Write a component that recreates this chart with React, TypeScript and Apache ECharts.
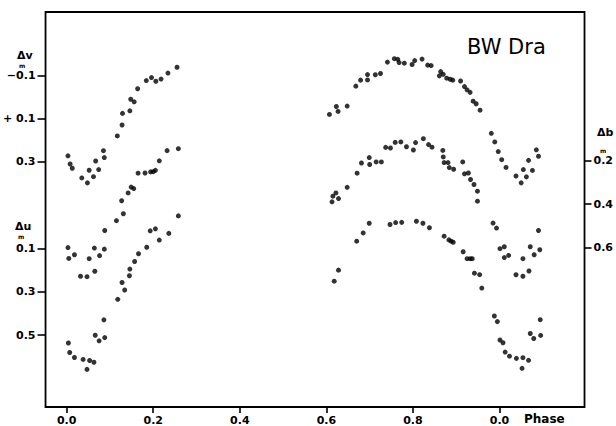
import React, { useEffect, useRef } from "react";
import * as echarts from "echarts";

// ---- tick values and labels ----
const phaseTicks = [0, 0.2, 0.4, 0.6, 0.8, 1.0];
const phaseTickLabels = ["0.0", "0.2", "0.4", "0.6", "0.8", "0.0"];
const vTicks = [-0.1, 0.1, 0.3];
const vTickLabels = ["\u22120.1", "+ 0.1", "0.3"];
const uTicks = [0.1, 0.3, 0.5];
const uTickLabels = ["0.1", "0.3", "0.5"];
const bTicks = [0.2, 0.4, 0.6];
const bTickLabels = ["0.2", "0.4", "0.6"];

// ---- Δv (top curve, left axis) ----
const vPhase = [0.003, 0.008, 0.013, 0.035, 0.048, 0.052, 0.062, 0.067, 0.074, 0.085, 0.087, 0.117, 0.128, 0.129, 0.146, 0.148, 0.156, 0.164, 0.184, 0.196, 0.206, 0.218, 0.234, 0.255,
  0.607, 0.623, 0.627, 0.648, 0.668, 0.679, 0.695, 0.695, 0.713, 0.725, 0.741, 0.757, 0.765, 0.768, 0.780, 0.798, 0.804, 0.821, 0.834, 0.842, 0.861, 0.864, 0.870, 0.878, 0.886, 0.892, 0.910, 0.919, 0.925, 0.932, 0.939, 0.946, 0.955, 0.981, 0.989, 0.997, 1.005, 1.015, 1.038, 1.050, 1.055, 1.062, 1.067, 1.076, 1.085, 1.090];
const vMag = [0.273, 0.311, 0.331, 0.376, 0.399, 0.340, 0.370, 0.297, 0.337, 0.249, 0.281, 0.180, 0.129, 0.075, 0.063, 0.009, 0.021, -0.040, -0.078, -0.092, -0.075, -0.085, -0.113, -0.140,
  0.080, 0.043, 0.066, 0.041, -0.052, -0.080, -0.106, -0.081, -0.105, -0.111, -0.164, -0.180, -0.177, -0.162, -0.159, -0.153, -0.171, -0.178, -0.150, -0.148, -0.100, -0.120, -0.107, -0.089, -0.084, -0.080, -0.076, -0.050, -0.035, -0.023, 0.018, 0.030, 0.060, 0.168, 0.208, 0.253, 0.291, 0.327, 0.367, 0.399, 0.337, 0.371, 0.294, 0.341, 0.245, 0.275];

// ---- Δb (middle curve, right axis) ----
const bPhase = [0.003, 0.005, 0.018, 0.032, 0.047, 0.052, 0.064, 0.065, 0.076, 0.087, 0.088, 0.115, 0.127, 0.131, 0.142, 0.149, 0.155, 0.165, 0.181, 0.194, 0.200, 0.205, 0.214, 0.232, 0.258,
  0.613, 0.615, 0.622, 0.628, 0.648, 0.671, 0.681, 0.699, 0.700, 0.715, 0.727, 0.737, 0.748, 0.759, 0.772, 0.785, 0.801, 0.806, 0.824, 0.836, 0.844, 0.869, 0.870, 0.872, 0.881, 0.884, 0.894, 0.915, 0.919, 0.928, 0.933, 0.941, 0.949, 0.949, 0.985, 0.993, 1.001, 1.011, 1.011, 1.021, 1.038, 1.054, 1.054, 1.068, 1.071, 1.080, 1.090, 1.093];
const bMag = [0.601, 0.651, 0.634, 0.733, 0.735, 0.652, 0.603, 0.710, 0.638, 0.608, 0.522, 0.477, 0.385, 0.445, 0.349, 0.322, 0.329, 0.258, 0.257, 0.252, 0.251, 0.245, 0.201, 0.154, 0.145,
  0.390, 0.364, 0.349, 0.375, 0.323, 0.258, 0.211, 0.186, 0.218, 0.206, 0.206, 0.139, 0.142, 0.116, 0.114, 0.136, 0.151, 0.117, 0.099, 0.126, 0.138, 0.153, 0.183, 0.209, 0.209, 0.232, 0.240, 0.206, 0.261, 0.257, 0.287, 0.310, 0.341, 0.387, 0.488, 0.511, 0.606, 0.597, 0.647, 0.637, 0.726, 0.733, 0.652, 0.709, 0.597, 0.634, 0.522, 0.611];

// ---- Δu (bottom curve, left axis) ----
const uPhase = [0.004, 0.007, 0.018, 0.038, 0.047, 0.053, 0.063, 0.066, 0.075, 0.088, 0.086, 0.118, 0.128, 0.134, 0.145, 0.146, 0.157, 0.166, 0.185, 0.193, 0.205, 0.214, 0.236, 0.258,
  0.618, 0.628, 0.670, 0.685, 0.699, 0.747, 0.760, 0.774, 0.808, 0.823, 0.838, 0.872, 0.883, 0.888, 0.893, 0.916, 0.925, 0.932, 0.937, 0.942, 0.954, 0.959, 0.988, 0.995, 1.001, 1.008, 1.013, 1.023, 1.039, 1.054, 1.067, 1.052, 1.071, 1.079, 1.094, 1.095];
const uMag = [0.536, 0.580, 0.603, 0.612, 0.658, 0.617, 0.625, 0.500, 0.526, 0.511, 0.429, 0.334, 0.256, 0.291, 0.225, 0.194, 0.159, 0.123, 0.093, 0.017, 0.008, 0.060, 0.029, -0.052,
  0.250, 0.199, 0.065, 0.027, -0.018, -0.012, -0.021, -0.022, -0.027, -0.018, 0.003, 0.042, 0.059, 0.065, 0.070, 0.114, 0.146, 0.146, 0.146, 0.213, 0.220, 0.282, 0.411, 0.437, 0.522, 0.535, 0.578, 0.597, 0.607, 0.604, 0.616, 0.653, 0.492, 0.515, 0.428, 0.501];

const FONT = "DejaVu Sans";
const zip = (xs: number[], ys: number[]) => xs.map((x, i) => [x, ys[i]]);
const fmt = (ticks: number[], labels: string[]) => (v: number) => {
  const i = ticks.findIndex((t) => Math.abs(t - v) < 1e-6);
  return i >= 0 ? labels[i] : "";
};

const labelStyle = { color: "#000", fontFamily: FONT, fontSize: 11, fontWeight: "bold" as const };
const tickStyle = { color: "#000", width: 1.6 };

function yAxisDef(min: number, max: number, ticks: number[], labels: string[], position: string, tickLen: number, margin: number) {
  return {
    type: "value",
    position,
    inverse: true,
    min,
    max,
    axisLine: { show: false, onZero: false },
    splitLine: { show: false },
    axisTick: { show: true, customValues: ticks, length: tickLen, inside: false, lineStyle: tickStyle },
    axisLabel: { show: true, customValues: ticks, formatter: fmt(ticks, labels), margin, ...labelStyle },
  };
}

export default function App() {
  const ref = useRef<HTMLDivElement>(null);
  useEffect(() => {
    if (!ref.current) return;
    const chart = echarts.init(ref.current, null, { renderer: "svg" });
    const mk = { type: "scatter", symbol: "circle", symbolSize: 5, itemStyle: { color: "#000" }, silent: true };
    const txt = (text: string, x: number, y: number, size: number, weight = "bold", align = "left") => ({
      type: "text",
      style: { text, x, y, fill: "#000", font: `${weight} ${size}px ${FONT}`, lineHeight: size, align, verticalAlign: "middle", textAlign: align, textVerticalAlign: "middle" },
    });
    chart.setOption({
      animation: false,
      backgroundColor: "#fff",
      grid: { left: 44, right: 31, top: 12, bottom: 18, show: true, borderColor: "#000", borderWidth: 1.8, backgroundColor: "transparent" },
      xAxis: {
        type: "value",
        min: -0.0488,
        max: 1.1963,
        axisLine: { show: false, onZero: false },
        splitLine: { show: false },
        axisTick: { show: true, customValues: phaseTicks, length: 6, lineStyle: tickStyle },
        axisLabel: { show: true, customValues: phaseTicks, formatter: fmt(phaseTicks, phaseTickLabels), margin: 8, ...labelStyle },
      },
      yAxis: [
        yAxisDef(-0.3977, 1.444, vTicks, vTickLabels, "left", 8, 10),
        yAxisDef(-0.995, 0.832, uTicks, uTickLabels, "left", 8, 10),
        yAxisDef(-0.485, 1.3357, bTicks, bTickLabels, "right", 7, 9),
      ],
      series: [
        { ...mk, name: "Δv", yAxisIndex: 0, data: zip(vPhase, vMag) },
        { ...mk, name: "Δb", yAxisIndex: 2, data: zip(bPhase, bMag) },
        { ...mk, name: "Δu", yAxisIndex: 1, data: zip(uPhase, uMag) },
      ],
      graphic: [
        txt("BW Dra", 467, 47, 21, "normal"),
        txt("Phase", 524, 419, 12),
        txt("Δv", 17, 55.5, 11),
        txt("m", 19, 65, 6),
        txt("Δu", 15, 226, 11),
        txt("m", 18, 236.5, 6),
        txt("Δb", 597, 132, 11),
        txt("m", 600, 150, 6),
      ],
    });
    return () => chart.dispose();
  }, []);
  return <div ref={ref} style={{ position: "fixed", left: 0, top: 0, width: 616, height: 426, background: "#fff" }} />;
}
